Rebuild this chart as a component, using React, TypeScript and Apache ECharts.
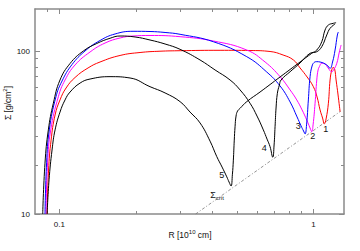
import React, { useEffect, useRef } from "react";
import * as echarts from "echarts";

const xMin = 0.0802;
const xMax = 1.32;
const yMin = 10;
const yMax = 181;
const xMajor = [0.1, 1];
const xMinor = [0.09, 0.2, 0.3, 0.4, 0.5, 0.6, 0.7, 0.8, 0.9];
const yMajor = [10, 100];
const yMinor = [20, 30, 40, 50, 60, 70, 80, 90];

// curve 1 (red)
const r1 = [0.0895, 0.0907, 0.0928, 0.0962, 0.1006, 0.1063, 0.1153, 0.1297, 0.1446, 0.1734, 0.2078, 0.249, 0.2987, 0.4292, 0.5633, 0.6752, 0.7598, 0.8345, 0.8863, 0.9446, 1.0, 1.0342, 1.0626, 1.087, 1.1048, 1.122, 1.1457, 1.1634, 1.1814, 1.196, 1.2123, 1.2286, 1.251, 1.2738];
const s1 = [10, 18.6, 28.4, 40.5, 50.1, 59.3, 68.8, 78.7, 85.6, 93.9, 97.9, 99.7, 100.4, 101.0, 100.7, 99.3, 94.5, 88.1, 78.7, 69.3, 60.4, 52.2, 43.5, 38.8, 35.7, 38.3, 47.8, 66.4, 76.5, 79.2, 77.6, 66.4, 53.7, 42.4];

// curve 2 (magenta)
const r2 = [0.0886, 0.0899, 0.0925, 0.0991, 0.1053, 0.1153, 0.1321, 0.1513, 0.1734, 0.195, 0.2275, 0.2987, 0.4039, 0.5467, 0.6456, 0.7395, 0.8097, 0.8603, 0.9028, 0.9419, 0.9705, 0.9856, 0.9973, 1.0155, 1.0313, 1.0436, 1.0558, 1.0791, 1.1119, 1.1428, 1.1814, 1.2014, 1.2366, 1.2627, 1.2859];
const s2 = [10, 20.6, 32.8, 52.4, 66.4, 82.1, 98.6, 111.9, 120.2, 123.6, 124.5, 122.4, 115.2, 101.4, 85.6, 69.6, 57.7, 50.1, 43.5, 37.7, 33.7, 32.0, 35.2, 47.8, 66.4, 76.5, 80.1, 84.1, 83.2, 78.7, 74.6, 76.5, 84.1, 97.2, 108.9];

// curve 3 (blue)
const r3 = [0.0878, 0.0891, 0.0913, 0.097, 0.1025, 0.1122, 0.1262, 0.1446, 0.1657, 0.195, 0.2275, 0.2607, 0.2987, 0.4039, 0.5467, 0.6554, 0.7395, 0.8097, 0.8626, 0.8945, 0.9149, 0.9275, 0.9401, 0.9556, 0.9705, 0.9883, 1.0065, 1.0313, 1.0626, 1.1292, 1.1634, 1.19, 1.2174, 1.2431, 1.2543];
const s3 = [10, 20.6, 32.8, 52.4, 65.5, 82.6, 100, 116.0, 127.2, 132.1, 131.7, 129.9, 126.6, 114.0, 92.3, 74.3, 61.0, 48.7, 39.4, 34.7, 32.3, 31.0, 35.2, 50.1, 69.6, 80.9, 85.0, 86.0, 85.6, 82.1, 78.3, 85.6, 101.4, 125.4, 130.8];

// curve 4 (black, upper)
const r4 = [0.086, 0.0878, 0.0905, 0.0947, 0.1006, 0.1102, 0.1243, 0.1404, 0.1583, 0.1734, 0.1986, 0.2275, 0.2607, 0.2987, 0.358, 0.4102, 0.4699, 0.5146, 0.5633, 0.6, 0.6354, 0.6572, 0.6752, 0.6921, 0.7004, 0.7066, 0.713, 0.7216, 0.7348, 0.7462, 0.8097, 0.8863, 0.9705, 1.0313, 1.0791, 1.1292, 1.1634, 1.2174];
const s4 = [10, 20.5, 32.8, 47.8, 66.4, 83.8, 100, 111.2, 119.7, 123.6, 121.9, 116.8, 110.4, 102.4, 88.1, 76.5, 66.4, 57.7, 47.8, 39.9, 32.8, 28.8, 25.9, 22.3, 26.5, 34.3, 44.7, 55.0, 61.8, 66.4, 74.6, 84.4, 96.8, 99.0, 106.3, 125.4, 137.8, 146.4];

// curve 5 (black, lower)
const r5 = [0.0895, 0.0911, 0.0936, 0.0962, 0.1006, 0.1053, 0.1102, 0.1207, 0.1321, 0.1583, 0.1898, 0.2275, 0.2607, 0.2987, 0.327, 0.358, 0.392, 0.4166, 0.4372, 0.4562, 0.4658, 0.4742, 0.4799, 0.4842, 0.4882, 0.4917, 0.4962, 0.503, 0.5146, 0.5467, 0.6166, 0.7395, 0.8863, 0.9856, 1.0313, 1.0791, 1.1119, 1.1457, 1.1988, 1.2286];
const s5 = [10, 16.2, 24.7, 32.8, 42.2, 50.1, 56.0, 63.6, 67.3, 69.6, 68.3, 60.4, 55.3, 48.9, 42.2, 36.2, 28.0, 22.5, 19.4, 16.9, 15.7, 14.85, 17.4, 21.4, 28.4, 34.3, 39.9, 42.8, 44.5, 48.9, 56.0, 69.3, 85.6, 96.8, 101.4, 114.0, 134.6, 144.3, 147.9, 149.1];

// critical surface density line
const critR = [0.344, 1.28];
const critS = [10, 42.7];

const zip = (r: number[], s: number[]) => r.map((v, i) => [v, s[i]]);

const FONT = "'Liberation Sans', Arial, Helvetica, sans-serif";
const AXIS_COLOR = "#8a8a8a";

function axisDef(kind: "x" | "y", pos: string, ticks: number[], len: number, withLine: boolean, withLabels: boolean) {
  return {
    type: "log",
    logBase: 10,
    min: kind === "x" ? xMin : yMin,
    max: kind === "x" ? xMax : yMax,
    position: pos,
    axisLine: { show: withLine, onZero: false, lineStyle: { color: AXIS_COLOR, width: 1.5 } },
    axisTick: { show: true, inside: true, length: len, customValues: ticks, lineStyle: { color: AXIS_COLOR, width: 1 } },
    axisLabel: withLabels
      ? {
          show: true,
          customValues: ticks,
          margin: kind === "x" ? 6 : 5,
          color: "#111",
          fontSize: 8,
          fontFamily: FONT,
          formatter: (v: number) => String(+Number(v).toPrecision(3)),
        }
      : { show: false },
    splitLine: { show: false },
    minorTick: { show: false },
    minorSplitLine: { show: false },
  };
}

export default function App() {
  const ref = useRef<HTMLDivElement>(null);
  useEffect(() => {
    const chart = echarts.init(ref.current!, undefined, { renderer: "svg" });
    const lineSeries = (name: string, data: number[][], color: string) => ({
      name,
      type: "line",
      data,
      showSymbol: false,
      symbol: "none",
      smooth: 0.45,
      xAxisIndex: 0,
      yAxisIndex: 0,
      lineStyle: { color, width: 1 },
      z: 3,
    });
    chart.setOption({
      animation: false,
      backgroundColor: "#fff",
      grid: { left: 35, right: 16, top: 9, bottom: 37, containLabel: false },
      xAxis: [
        axisDef("x", "bottom", xMajor, 5, true, true),
        axisDef("x", "bottom", xMinor, 3, false, false),
        axisDef("x", "top", xMajor, 5, true, false),
        axisDef("x", "top", xMinor, 3, false, false),
      ],
      yAxis: [
        axisDef("y", "left", yMajor, 5, true, true),
        axisDef("y", "left", yMinor, 3, false, false),
        axisDef("y", "right", yMajor, 5, true, false),
        axisDef("y", "right", yMinor, 3, false, false),
      ],
      series: [
        {
          name: "crit",
          type: "line",
          data: zip(critR, critS),
          symbol: "none",
          xAxisIndex: 0,
          yAxisIndex: 0,
          lineStyle: { color: "#777", width: 0.8, type: [3, 2, 1, 2] },
          z: 2,
        },
        lineSeries("1", zip(r1, s1), "#ff0000"),
        lineSeries("2", zip(r2, s2), "#ff00ff"),
        lineSeries("3", zip(r3, s3), "#0000ff"),
        lineSeries("4", zip(r4, s4), "#000000"),
        lineSeries("5", zip(r5, s5), "#000000"),
      ],
      graphic: [
        {
          type: "text",
          x: 8,
          y: 103,
          rotation: Math.PI / 2,
          style: {
            text: "{a|Σ [g/cm}{b|2}{a|]}",
            align: "center",
            verticalAlign: "middle",
            rich: {
              a: { fontSize: 8.5, fontFamily: FONT, fill: "#111", lineHeight: 12 },
              b: { fontSize: 6, fontFamily: FONT, fill: "#111", lineHeight: 7, verticalAlign: "top" },
            },
          },
        },
        {
          type: "text",
          x: 190,
          y: 235,
          style: {
            text: "{a|R [10}{b|10}{a| cm]}",
            align: "center",
            verticalAlign: "middle",
            rich: {
              a: { fontSize: 8.5, fontFamily: FONT, fill: "#111", lineHeight: 12 },
              b: { fontSize: 6, fontFamily: FONT, fill: "#111", lineHeight: 7, verticalAlign: "top" },
            },
          },
        },
        {
          type: "text",
          x: 217,
          y: 195,
          style: {
            text: "{a|Σ}{b|crit}",
            align: "center",
            verticalAlign: "middle",
            rich: {
              a: { fontSize: 9, fontFamily: FONT, fill: "#111", lineHeight: 12 },
              b: { fontSize: 6, fontFamily: FONT, fill: "#111", lineHeight: 7, verticalAlign: "bottom" },
            },
          },
        },
        ...[
          ["5", 221.7, 175],
          ["4", 264.3, 148.3],
          ["3", 298.3, 125.5],
          ["2", 312.7, 135.5],
          ["1", 325.8, 129],
        ].map(([t, x, y]) => ({
          type: "text",
          x: x as number,
          y: y as number,
          style: {
            text: t as string,
            align: "center",
            verticalAlign: "middle",
            fontSize: 9,
            fontFamily: FONT,
            fill: "#111",
          },
        })),
      ],
    });
    return () => chart.dispose();
  }, []);
  return (
    <div
      ref={ref}
      style={{ position: "fixed", left: 0, top: 0, width: 360, height: 251, background: "#fff" }}
    />
  );
}
